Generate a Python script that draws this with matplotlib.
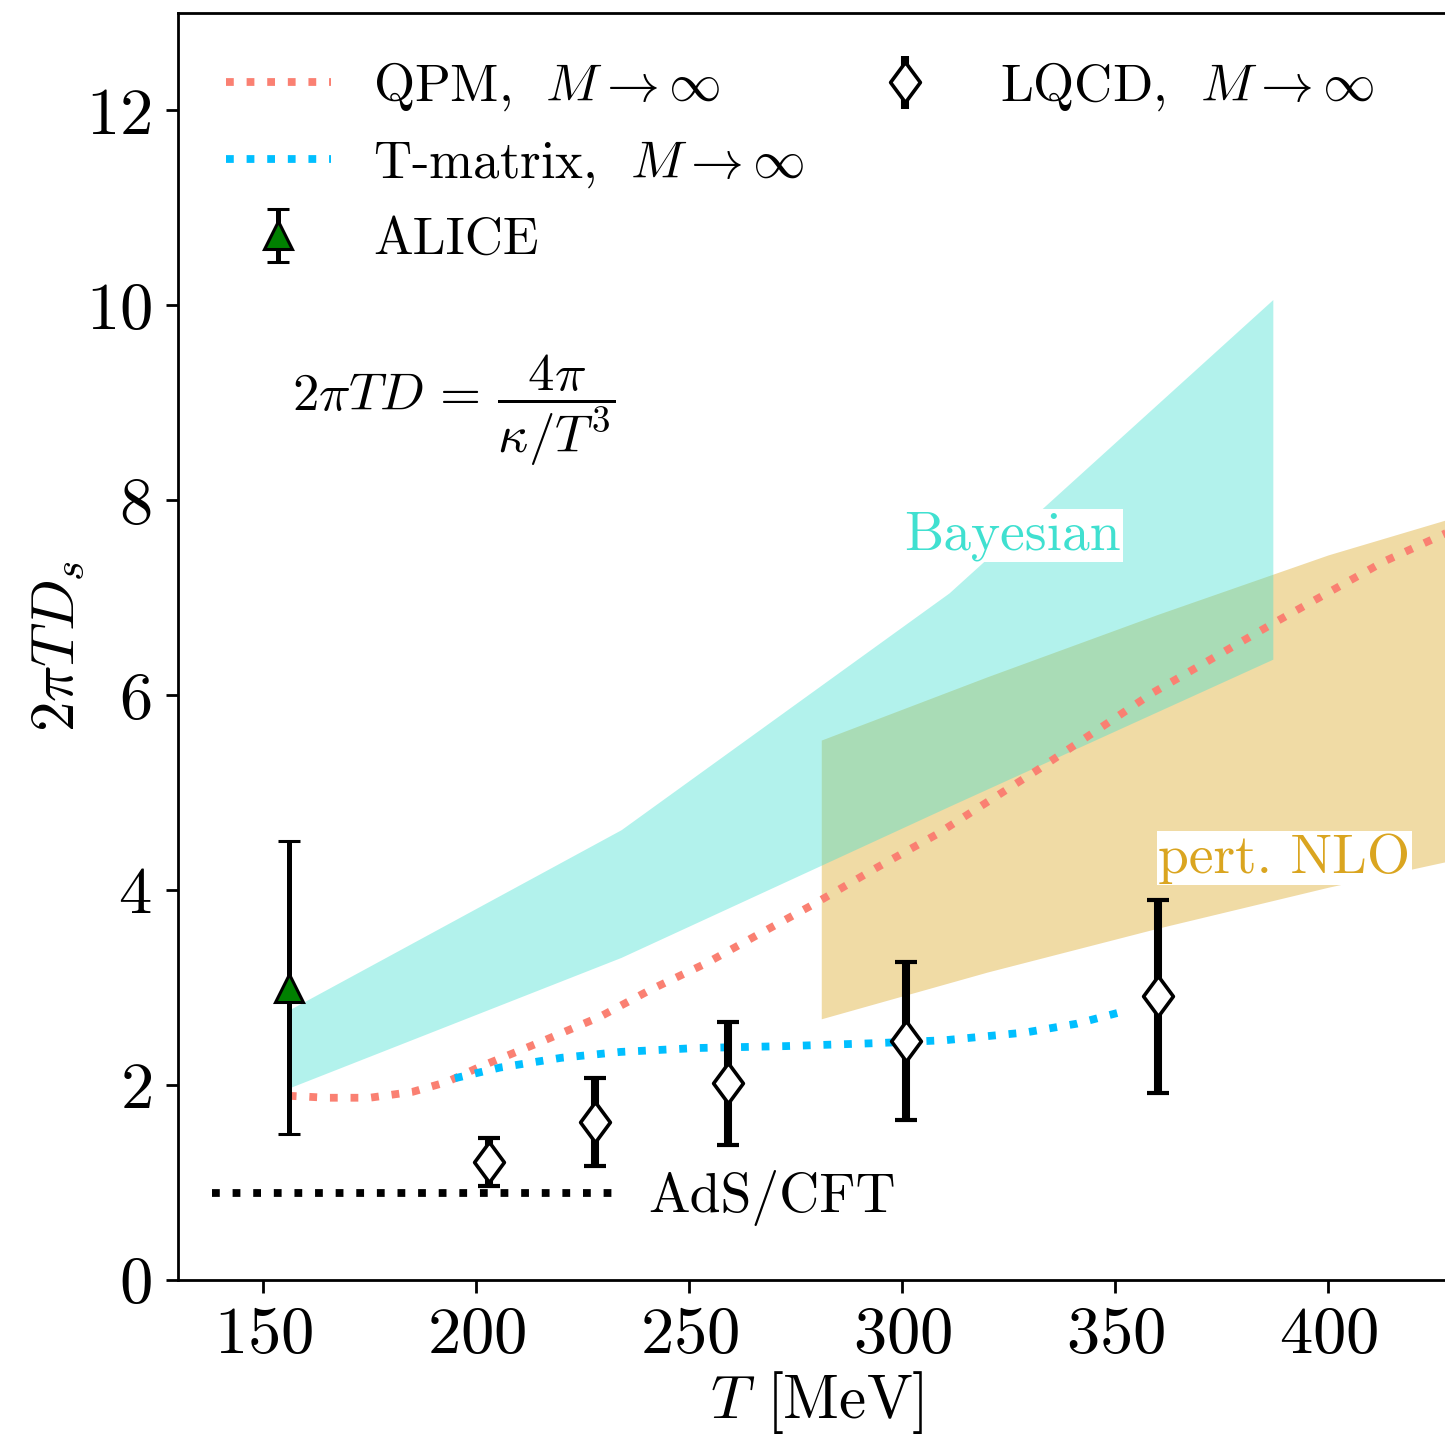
import matplotlib
matplotlib.use("Agg")
import matplotlib.pyplot as plt
from matplotlib.lines import Line2D

plt.rcParams['font.family'] = 'serif'
plt.rcParams['font.serif'] = ['cmr10']
plt.rcParams['mathtext.fontset'] = 'cm'
plt.rcParams['axes.formatter.use_mathtext'] = True
plt.rcParams['axes.unicode_minus'] = False

# ALICE
T_alice = [156]
D_alice = [3.0]
err_alice = [1.5]

# lattice QCD, M -> inf
T_lqcd = [203, 228, 259, 301, 360]
D_lqcd = [1.21, 1.62, 2.02, 2.45, 2.91]
err_lqcd = [0.25, 0.45, 0.63, 0.81, 0.99]

# QPM curve
T_qpm = [156, 165, 175, 185, 193, 201, 215, 229, 241, 254, 266, 279, 294, 308,
         332, 359, 388, 413, 427, 432]
D_qpm = [1.89, 1.87, 1.87, 1.93, 2.03, 2.19, 2.44, 2.70, 2.98, 3.25, 3.54, 3.85,
         4.23, 4.57, 5.24, 6.03, 6.76, 7.37, 7.65, 7.76]

# T-matrix curve
T_tmat = [195, 205.6, 220, 233.8, 251.6, 272.8, 293.7, 310, 329, 341, 351.4]
D_tmat = [2.07, 2.18, 2.28, 2.34, 2.38, 2.40, 2.43, 2.46, 2.54, 2.63, 2.75]

# Bayesian band
T_bay = [156, 234, 311, 387]
bay_lo = [1.97, 3.31, 4.86, 6.37]
bay_hi = [2.77, 4.62, 7.05, 10.06]

# perturbative NLO band
T_nlo = [281, 320, 360, 400, 440]
nlo_lo = [2.68, 3.16, 3.61, 4.03, 4.41]
nlo_hi = [5.54, 6.19, 6.83, 7.44, 7.96]

# AdS/CFT
T_ads = [138, 232]
D_ads = [0.89, 0.89]

W, H = 1445, 1439
fig = plt.figure(figsize=(W / 200, H / 200), dpi=200)
ax = fig.add_axes([178 / W, 159 / H, 1278 / W, 1267 / H])

ax.fill_between(T_nlo, nlo_lo, nlo_hi, color='goldenrod', alpha=0.4, lw=0, zorder=1)
ax.fill_between(T_bay, bay_lo, bay_hi, color='turquoise', alpha=0.4, lw=0, zorder=1)

qpm, = ax.plot(T_qpm, D_qpm, ':', color='salmon', lw=2.8, zorder=2,
               label=r'QPM, $\ M\rightarrow\infty$')
tmat, = ax.plot(T_tmat, D_tmat, ':', color='deepskyblue', lw=2.8, zorder=2,
                label=r'T-matrix, $\ M\rightarrow\infty$')
ax.plot(T_ads, D_ads, ':', color='black', lw=2.8, zorder=2)

diamond = [(0, 1), (0.74, 0), (0, -1), (-0.74, 0), (0, 1)]
alice = ax.errorbar(T_alice, D_alice, yerr=err_alice, fmt='^', ms=10,
                    mfc='green', mec='black', mew=1.1, ecolor='black',
                    elinewidth=1.8, capsize=4, capthick=1.5, zorder=4,
                    label='ALICE')
ax.errorbar(T_lqcd, D_lqcd, yerr=err_lqcd, fmt='none', ecolor='black',
            elinewidth=2.9, capsize=4, capthick=1.5, zorder=4)
ax.plot(T_lqcd, D_lqcd, linestyle='none', marker=diamond, ms=14.5, mfc='white',
        mec='black', mew=1.3, zorder=5)
lqcd_h = ax.errorbar([], [], yerr=[], fmt='none', ecolor='black',
                     elinewidth=2.9, capsize=4, capthick=1.5)
lqcd_mk = Line2D([], [], linestyle='none', marker=diamond, ms=14.5, mfc='white',
                 mec='black', mew=1.3)

ax.text(300.5, 7.5, 'Bayesian', color='turquoise', fontsize=20, zorder=3,
        bbox=dict(facecolor='white', edgecolor='none', pad=0.5))
ax.text(360.1, 4.18, 'pert. NLO', color='goldenrod', fontsize=20, zorder=3,
        bbox=dict(facecolor='white', edgecolor='none', pad=0.5))
ax.text(240.4, 0.70, 'AdS/CFT', color='black', fontsize=20)
ax.text(156.8, 8.93, r'$2\pi TD\,=\,\dfrac{4\pi}{\kappa/T^3}$', fontsize=19,
        va='center')

blank = Line2D([], [], linestyle='none')
ax.legend([qpm, tmat, alice, (lqcd_h, lqcd_mk), blank],
          [qpm.get_label(), tmat.get_label(), 'ALICE',
           r'LQCD, $\ M\rightarrow\infty$', ''],
          loc='upper left', ncol=2, frameon=False, fontsize=19,
          columnspacing=0.9)

ax.set_xlim(130, 430)
ax.set_ylim(0, 13)
ax.set_xticks([150, 200, 250, 300, 350, 400])
ax.set_yticks([0, 2, 4, 6, 8, 10, 12])
ax.tick_params(labelsize=24, length=4.5, width=1, pad=5)
for s in ax.spines.values():
    s.set_linewidth(1)
ax.set_xlabel(r'$T$ [MeV]', fontsize=22, labelpad=1)
ax.set_ylabel(r'$2\pi TD_s$', fontsize=22, labelpad=0)

fig.savefig('out.png', dpi=200)
